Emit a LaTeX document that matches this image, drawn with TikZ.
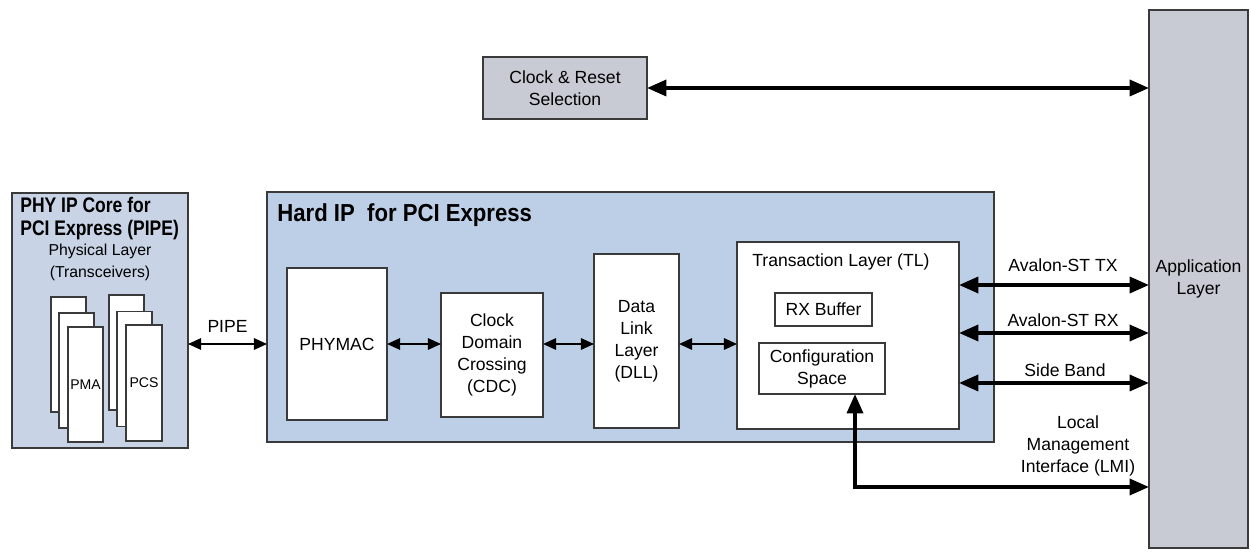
\documentclass[tikz,border=0pt]{standalone}
\usepackage{fontspec}
\setmainfont{Liberation Sans}
\usetikzlibrary{arrows.meta,positioning}

\definecolor{appgray}{HTML}{C8CBD4}
\definecolor{phyblue}{HTML}{C8D3E5}
\definecolor{hipblue}{HTML}{BDCFE6}
\definecolor{edgegray}{HTML}{3A3A3A}

\tikzset{
  blk/.style={draw=edgegray, line width=0.7pt, fill=white, inner sep=0pt, outer sep=0pt,
    align=center, font=\fontsize{10}{12.5}\selectfont},
  bigarrow/.style={line width=2.2pt,
    {Triangle[length=11pt,width=9pt]}-{Triangle[length=11pt,width=9pt]}},
  smallarrow/.style={line width=1.2pt,
    {Triangle[length=7.5pt,width=6.5pt]}-{Triangle[length=7.5pt,width=6.5pt]}},
  lbl/.style={inner sep=0pt, align=center, font=\fontsize{10}{12.5}\selectfont},
}

\begin{document}
\begin{tikzpicture}[x=0.02cm, y=-0.02cm]
  \useasboundingbox (0,0) rectangle (1251,560);

  % outer blocks
  \node[blk, fill=appgray, minimum width=1.98cm, minimum height=10.76cm] (app) at (1198.5,279) {Application\\Layer};
  \node[blk, fill=appgray, minimum width=3.28cm, minimum height=1.24cm] (clk) at (565,88) {Clock \& Reset\\Selection};
  \node[blk, fill=phyblue, minimum width=3.52cm, minimum height=5.1cm] (phy) at (100,320.5) {};
  \node[blk, fill=hipblue, minimum width=14.54cm, minimum height=5cm] (hip) at (630.5,317) {};

  % titles
  \node[lbl, anchor=north west, font=\bfseries\fontsize{12}{13}\selectfont] (phytitle) at (20,196)
    {\scalebox{0.83}[1]{\begin{tabular}{@{}l@{}}PHY IP Core for\\PCI Express (PIPE)\end{tabular}}};
  \node[lbl, font=\fontsize{9}{12.5}\selectfont] (phyname) at (100,262) {Physical Layer\\(Transceivers)};
  \node[lbl, anchor=north west, font=\bfseries\fontsize{14}{15}\selectfont] (hiptitle) at (277,203)
    {\scalebox{0.9}[1]{Hard IP\ \ for PCI Express}};

  % transceiver stacks
  \node[blk, minimum width=0.7cm, minimum height=2.3cm] (pmaa) at (68.5,354.5) {};
  \node[blk, minimum width=0.7cm, minimum height=2.3cm] (pmab) at (76.5,370.5) {};
  \node[blk, minimum width=0.7cm, minimum height=2.3cm, font=\fontsize{8}{9}\selectfont] (pmac) at (85.5,384.5) {PMA};
  \node[blk, minimum width=0.7cm, minimum height=2.3cm] (pcsa) at (126.5,352.5) {};
  \node[blk, minimum width=0.7cm, minimum height=2.3cm] (pcsb) at (134.5,369) {};
  \node[blk, minimum width=0.72cm, minimum height=2.32cm, font=\fontsize{8}{9}\selectfont] (pcsc) at (144,383) {PCS};

  % hard IP internals
  \node[blk, minimum width=2cm, minimum height=3.04cm] (phymac) at (337,344) {PHYMAC};
  \node[blk, minimum width=2.04cm, minimum height=2.48cm] (cdc) at (492,355) {Clock\\Domain\\Crossing\\(CDC)};
  \node[blk, minimum width=1.7cm, minimum height=3.48cm] (dll) at (636.5,341) {Data\\Link\\Layer\\(DLL)};
  \node[blk, minimum width=4.44cm, minimum height=3.74cm] (tl) at (848,335.5) {};
  \node[lbl, anchor=north west] (tltitle) at (752,253) {Transaction Layer (TL)};
  \node[blk, minimum width=1.94cm, minimum height=0.66cm] (rxb) at (823.5,309.5) {RX Buffer};
  \node[blk, minimum width=2.52cm, minimum height=1.02cm] (cfg) at (822,368.5) {Configuration\\Space};

  % connections
  \draw[bigarrow] (clk.east) -- (clk.east -| app.west);
  \draw[smallarrow] (phy.east |- phymac.east) -- node[lbl, above=6pt] (pipe) {PIPE} (phymac.east -| hip.west);
  \draw[smallarrow] (phymac.east) -- (phymac.east -| cdc.west);
  \draw[smallarrow] (phymac.east -| cdc.east) -- (phymac.east -| dll.west);
  \draw[smallarrow] (phymac.east -| dll.east) -- (phymac.east -| tl.west);

  \draw[bigarrow] ([yshift=1.01cm]tl.east) -- ([yshift=1.01cm]tl.east -| app.west);
  \draw[bigarrow] ([yshift=0.05cm]tl.east) -- ([yshift=0.05cm]tl.east -| app.west);
  \draw[bigarrow] ([yshift=-0.95cm]tl.east) -- ([yshift=-0.95cm]tl.east -| app.west);
  \coordinate (lmi) at (855,487);
  \draw[bigarrow] (lmi |- cfg.south) -- (lmi) -- (lmi -| app.west);

  % signal labels
  \node[lbl] (txl) at (1063,265) {Avalon-ST TX};
  \node[lbl] (rxl) at (1063,320) {Avalon-ST RX};
  \node[lbl] (sbl) at (1065,370) {Side Band};
  \node[lbl] (lmil) at (1078,446) {Local\\Management\\Interface (LMI)};
\end{tikzpicture}
\end{document}
